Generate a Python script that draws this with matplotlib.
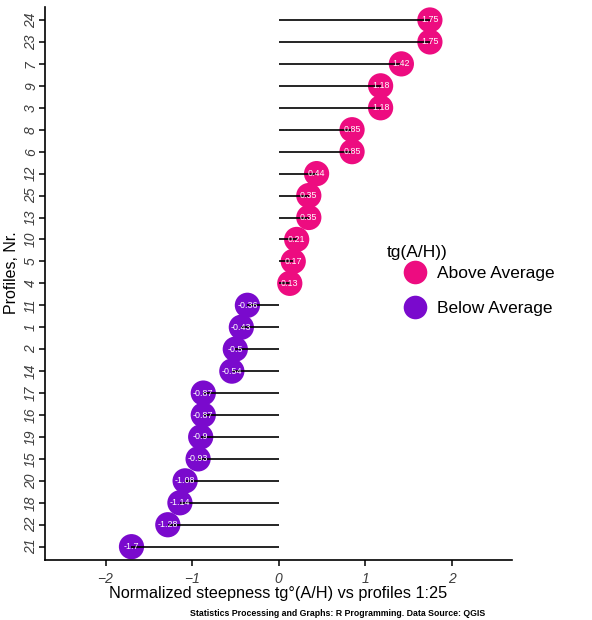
import numpy as np
import matplotlib
matplotlib.use("Agg")
import matplotlib.pyplot as plt
from matplotlib.lines import Line2D

plt.rcParams['font.family'] = ['Liberation Sans', 'DejaVu Sans']

# profiles ordered bottom -> top, with normalized steepness
profiles = ['21', '22', '18', '20', '15', '19', '16', '17', '14', '2', '1', '11',
            '4', '5', '10', '13', '25', '12', '6', '8', '3', '9', '7', '23', '24']
values = [-1.7, -1.28, -1.14, -1.08, -0.93, -0.9, -0.87, -0.87, -0.54, -0.5, -0.43, -0.36,
          0.13, 0.17, 0.21, 0.35, 0.35, 0.44, 0.85, 0.85, 1.18, 1.18, 1.42, 1.75, 1.75]
groups = ['Above Average', 'Below Average']
group_colors = ['#ED0C80', '#7A0ACD']

fig = plt.figure(figsize=(5.92, 6.20), dpi=100)
ax = fig.add_axes([0.076, 0.097, 0.789, 0.892])

ypos = np.arange(1, len(profiles) + 1)
cols = [group_colors[0] if v > 0 else group_colors[1] for v in values]

ax.scatter(values, ypos, s=330, c=cols, zorder=2, linewidths=0)
ax.hlines(ypos, 0, values, color='black', lw=1.2, zorder=3)
for v, y in zip(values, ypos):
    ax.text(v, y, f"{v:g}", color='white', fontsize=6.4, ha='center', va='center', zorder=4)

ax.set_xlim(-2.7, 2.7)
ax.set_ylim(0.4, 25.6)
ax.set_yticks(ypos)
ax.set_yticklabels(profiles, rotation=90, va='center', fontstyle='italic', color='#3d3d3d', fontsize=10)
ax.set_xticks([-2, -1, 0, 1, 2])
ax.set_xticklabels(['\u22122', '\u22121', '0', '1', '2'], fontstyle='italic', color='#3d3d3d', fontsize=10)
ax.tick_params(axis='y', length=4, width=1.1, color='black', pad=1)
ax.tick_params(axis='x', length=4, width=1.1, color='black', pad=5)

for s in ['top', 'right']:
    ax.spines[s].set_visible(False)
for s in ['left', 'bottom']:
    ax.spines[s].set_linewidth(1.2)

ax.set_xlabel('Normalized steepness tg°(A/H) vs profiles 1:25', fontsize=11.7, labelpad=0)
ax.set_ylabel('Profiles, Nr.', fontsize=11.5)
ax.yaxis.set_label_coords(-0.056, 0.52)

# legend: title as separate text so the keys can be indented like the reference
fig.text(0.654, 1 - 252 / 620, 'tg(A/H))', fontsize=12.5, ha='left', va='center')
handles = [Line2D([], [], marker='o', ls='', markersize=17, markerfacecolor=c, markeredgewidth=0)
           for c in group_colors]
fig.legend(handles, groups, loc='upper left', bbox_to_anchor=(0.681, 1 - 266 / 620),
           frameon=False, fontsize=12.5, labelspacing=1.15, handlelength=1.4, handletextpad=0.55,
           borderpad=0, borderaxespad=0)

# title cut off at the top of the picture
fig.text(0.18, 1.005, 'Normalized steepness tg(A/H) above / below the average of all profiles',
         fontsize=10, color='#555555', va='bottom')

fig.text(0.82, 0.003, 'Statistics Processing and Graphs: R Programming. Data Source: QGIS',
         fontsize=6.3, fontweight='bold', ha='right', va='bottom')

fig.savefig('out.png', dpi=100)
